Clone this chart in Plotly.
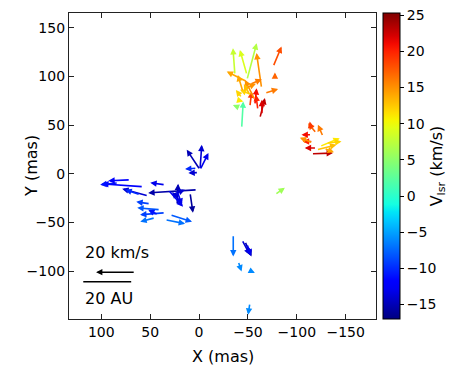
import numpy as np
import plotly.graph_objects as go

# ---- data: maser spots (tail position in mas), proper motions (km/s), V_lsr (km/s)
x0 = [2.0, 57.1, 82.7, 52.0, 60.2, 22.4, 16.3, 9.2, 22.8, 31.6, 50.0, 39.8, 34.7, 44.9, 29.6, 34.7, 41.8, 34.7, 27.6, 70.4,
      -1.0, -1.0, -1.0, 2.3, 0.7,
      -43.6, -49.0, -64.0, -75.8, -77.6, -62.2, -57.1, -52.0, -67.3, -48.7, -38.5, -36.7, -49.0, -57.1, -54.1, -44.9, -60.2, -64.3, -52.0, -41.8, -52.0, -48.0, -43.9,
      -115.0, -115.0, -116.3, -120.1, -120.1, -126.8, -123.5, -130.3, -120.1, -116.3, -115.0, -128.0,
      -77.6,
      -35.0, -46.9, -43.9, -49.0, -40.1, -50.3, -52.0]
y0 = [-16.4, -13.3, -9.2, -22.6, -21.5, -31.8, -31.8, -19.5, -16.4, -16.4, -30.8, -36.9, -40.0, -45.1, -42.0, -47.2, -42.0, -11.3, -21.5, -6.2,
      4.1, 4.1, 4.1, 5.8, 1.3,
      46.9, 96.4, 87.9, 110.0, 98.0, 57.1, 70.8, 69.0, 82.8, 94.7, 75.9, 101.5, 101.5, 75.9, 81.0, 84.1, 65.6, 60.5, 91.8, 67.7, 81.0, 88.2, 77.9,
      20.5, 40.0, 33.1, 26.4, 41.7, 38.3, 28.0, 31.5, 24.6, 31.8, 45.1, 26.0,
      -21.5,
      -62.6, -69.4, -67.7, -72.0, -90.0, -98.5, -132.6]
vx = [25.0, 21.0, 9.2, 13.3, 7.6, -0.5, 5.6, -1.5, -2.6, -7.6, 7.1, 11.7, 12.8, 7.6, -11.2, -10.2, 5.1, 7.6, -6.6, 11.2,
      6.8, -0.9, -4.3, 6.0, 5.1,
      -0.8, -5.0, 2.6, -4.3, 0.0, -2.6, -0.9, -0.9, -6.8, 10.2, -3.4, 1.0, 3.6, 5.1, 6.1, 2.6, 1.0, 0.0, -6.1, 3.6, 3.1, -5.1, 3.1,
      -11.0, 5.1, 5.1, 6.0, 4.3, 2.6, -10.2, -7.7, -10.2, 6.6, 0.9, -5.0,
      -5.1,
      0.0, -3.4, -4.1, -2.0, -1.7, -3.4, 0.9]
vy = [-1.6, 1.5, -1.0, 3.6, 2.6, 10.8, 6.6, -10.2, -7.7, -8.7, 1.0, 1.0, -1.0, -2.0, -3.6, -2.0, 2.6, 1.0, 2.6, -0.5,
      10.3, 12.8, 8.6, -0.5, -0.3,
      13.7, 18.8, 18.0, 10.3, 3.0, 10.3, 8.5, 7.7, 2.1, 5.1, -0.9, 13.7, 12.8, 10.3, 2.6, 8.7, 7.7, 7.7, 2.6, 1.5, 5.6, 2.1, 4.1,
      0.4, 0.0, 0.0, 0.0, 5.1, 6.0, 4.3, 0.8, 2.6, 2.6, 4.3, -2.0,
      3.6,
      -11.1, -7.7, -7.7, -6.0, -5.1, -1.7, -6.0]
vlsr = [-15.5, -12, -11, -14, -10, -15, -14, -16, -13, -13, -9, -8, -9, -7, -8, -7, -11, -13, -14, -12,
        -15, -14, -13, -10, -14,
        2, 7, 15, 18, 17, 23, 21, 19, 16, 14, 11, 8, 9, 15, 12, 14, 20, 22, 16, 5, 13, 15, 12,
        23, 21, 20, 22, 17, 16, 11, 12, 13, 15, 19, 14,
        6,
        -7, -15, -14, -13, -6, -6, -6]

SCALE = 2.0          # mas per km/s
VMIN, VMAX = -17.0, 25.3

# reference scale bar
ref_speed = 20.0     # km/s
ref_au_mas = 49.0    # 20 AU in mas

# ---- matplotlib "jet"
_r = [(0, 0), (0.35, 0), (0.66, 1), (0.89, 1), (1, 0.5)]
_g = [(0, 0), (0.125, 0), (0.375, 1), (0.64, 1), (0.91, 0), (1, 0)]
_b = [(0, 0.5), (0.11, 1), (0.34, 1), (0.65, 0), (1, 0)]


def _ch(seg, t):
    xs, ys = zip(*seg)
    return float(np.interp(t, xs, ys))


def jet(t):
    t = min(max(t, 0.0), 1.0)
    return "rgb(%d,%d,%d)" % tuple(round(255 * _ch(s, t)) for s in (_r, _g, _b))


jet_scale = [[t, jet(t)] for t in np.linspace(0, 1, 41)]

FONT = "DejaVu Sans"
fig = go.Figure()

# invisible markers carrying the colour bar
fig.add_trace(go.Scatter(
    x=x0, y=y0, mode="markers", hoverinfo="skip", showlegend=False,
    marker=dict(size=1, opacity=0, color=vlsr, colorscale=jet_scale, cmin=VMIN, cmax=VMAX,
                showscale=True,
                colorbar=dict(x=1.023, xanchor="left", xpad=0, ypad=0, y=0.5, yanchor="middle",
                              len=306, lenmode="pixels", thickness=17, thicknessmode="pixels",
                              outlinewidth=1, outlinecolor="black",
                              tickvals=[-15, -10, -5, 0, 5, 10, 15, 20, 25],
                              ticks="outside", ticklen=4, tickcolor="black",
                              tickfont=dict(family=FONT, size=14, color="black"),
                              title=dict(text="V<sub>lsr</sub> (km/s)", side="right",
                                         font=dict(family=FONT, size=16, color="black"))))))

annotations = []
for xi, yi, ui, wi, ci in zip(x0, y0, vx, vy, vlsr):
    annotations.append(dict(
        x=xi + SCALE * ui, y=yi + SCALE * wi, ax=xi, ay=yi,
        xref="x", yref="y", axref="x", ayref="y", text="", showarrow=True,
        arrowhead=2, arrowsize=0.8, arrowwidth=1.6,
        arrowcolor=jet((ci - VMIN) / (VMAX - VMIN))))

# scale bar arrow (20 km/s) and 20 AU line
bar_x_tail, bar_y = 65.3, -101.0
annotations.append(dict(x=bar_x_tail + SCALE * ref_speed, y=bar_y, ax=bar_x_tail, ay=bar_y,
                        xref="x", yref="y", axref="x", ayref="y", text="", showarrow=True,
                        arrowhead=2, arrowsize=0.9, arrowwidth=1.4, arrowcolor="black"))
au_x_right, au_y = 69.4, -110.8
fig.add_trace(go.Scatter(x=[au_x_right, au_x_right + ref_au_mas], y=[au_y, au_y], mode="lines",
                         line=dict(color="black", width=1.5), hoverinfo="skip", showlegend=False))
annotations.append(dict(x=118.4, y=-80.5, xref="x", yref="y", text="20 km/s", showarrow=False,
                        xanchor="left", yanchor="middle", font=dict(family=FONT, size=16, color="black")))
annotations.append(dict(x=118.4, y=-128.0, xref="x", yref="y", text="20 AU", showarrow=False,
                        xanchor="left", yanchor="middle", font=dict(family=FONT, size=16, color="black")))

# axis titles
annotations.append(dict(x=0.5, y=-0.124, xref="paper", yref="paper", text="X (mas)", showarrow=False,
                        xanchor="center", yanchor="middle", font=dict(family=FONT, size=16, color="black")))
annotations.append(dict(x=-0.124, y=0.5, xref="paper", yref="paper", text="Y (mas)", showarrow=False,
                        textangle=-90, xanchor="center", yanchor="middle",
                        font=dict(family=FONT, size=16, color="black")))

axis_common = dict(showline=True, linecolor="#222", linewidth=1.3, mirror="ticks",
                   ticks="inside", ticklen=5, tickcolor="#222", showgrid=False, zeroline=False,
                   tickfont=dict(family=FONT, size=14, color="black"))

fig.update_layout(
    width=473, height=366, margin=dict(l=69, r=97, t=13, b=47),
    paper_bgcolor="white", plot_bgcolor="white",
    xaxis=dict(range=[133, -181], tickvals=[100, 50, 0, -50, -100, -150], **axis_common),
    yaxis=dict(range=[-149, 165], tickvals=[-100, -50, 0, 50, 100, 150], **axis_common),
    annotations=annotations, showlegend=False,
    font=dict(family=FONT, size=14, color="black"))

fig.write_html("out.html")
